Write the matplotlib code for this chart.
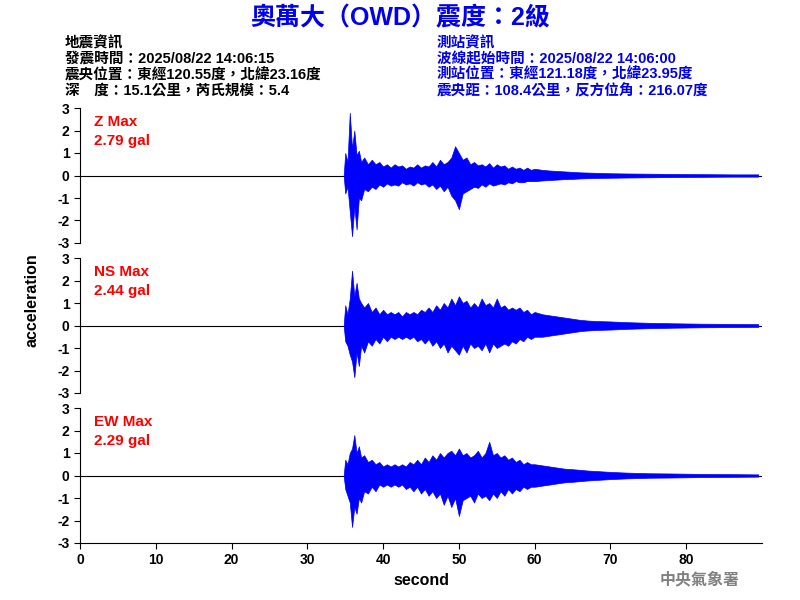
import matplotlib
matplotlib.use("Agg")
import matplotlib.pyplot as plt

plt.rcParams['font.family'] = ['Liberation Sans', 'Noto Sans CJK TC', 'DejaVu Sans']
plt.rcParams['axes.unicode_minus'] = False

title = "奧萬大（OWD）震度：2級"
left_info = ["地震資訊", "發震時間：2025/08/22 14:06:15", "震央位置：東經120.55度，北緯23.16度", "深　度：15.1公里，芮氏規模：5.4"]
right_info = ["測站資訊", "波線起始時間：2025/08/22 14:06:00", "測站位置：東經121.18度，北緯23.95度", "震央距：108.4公里，反方位角：216.07度"]
comp_labels = ["Z Max\n2.79 gal", "NS Max\n2.44 gal", "EW Max\n2.29 gal"]

# peak envelope: times (s) and upper/lower peaks per trace
t = [34.8, 35.0, 35.3, 35.6, 35.9, 36.2, 36.5, 36.8, 37.1, 37.5, 38.0, 38.5, 39.0, 39.5, 40.0, 40.5, 41.0,
     41.5, 42.0, 42.5, 43.0, 43.5, 44.0, 44.5, 45.0, 45.5, 46.0, 46.5, 47.0, 47.5, 48.0, 48.5, 49.0, 49.5,
     50.0, 50.5, 51.0, 51.5, 52.0, 52.5, 53.0, 53.5, 54.0, 54.5, 55.0, 55.5, 56.0, 56.5, 57.0, 57.5, 58.0,
     58.5, 59.0, 59.5, 60.0, 61.0, 62.0, 63.0, 64.0, 65.0, 66.0, 67.0, 68.0, 70.0, 72.0, 75.0, 78.0, 82.0, 86.0, 89.5]
z_up = [0.02, 1.0, 0.6, 2.79, 1.2, 2.0, 0.9, 1.1, 0.6, 0.8, 0.5, 0.7, 0.5, 0.6, 0.4, 0.5, 0.35,
        0.5, 0.4, 0.45, 0.3, 0.4, 0.35, 0.5, 0.35, 0.45, 0.4, 0.6, 0.4, 0.7, 0.5, 0.6, 0.8, 1.3,
        1.0, 0.7, 0.8, 0.5, 0.6, 0.45, 0.5, 0.4, 0.55, 0.35, 0.5, 0.4, 0.45, 0.3, 0.4, 0.3, 0.35,
        0.25, 0.35, 0.25, 0.3, 0.25, 0.22, 0.2, 0.18, 0.16, 0.14, 0.13, 0.12, 0.1, 0.09, 0.08, 0.07, 0.06, 0.05, 0.05]
z_lo = [-0.02, -0.8, -0.5, -1.6, -2.7, -1.4, -2.4, -1.0, -1.1, -0.6, -0.7, -0.5, -0.6, -0.4, -0.5, -0.35, -0.45,
        -0.4, -0.45, -0.3, -0.4, -0.35, -0.45, -0.3, -0.4, -0.35, -0.5, -0.4, -0.6, -0.45, -0.7, -0.5, -0.9, -1.1,
        -1.5, -0.8, -0.7, -0.6, -0.5, -0.55, -0.4, -0.5, -0.35, -0.45, -0.4, -0.35, -0.4, -0.3, -0.35, -0.25, -0.3,
        -0.3, -0.25, -0.25, -0.25, -0.22, -0.2, -0.18, -0.16, -0.15, -0.13, -0.12, -0.11, -0.1, -0.09, -0.08, -0.07, -0.06, -0.05, -0.05]
ns_up = [0.02, 0.9, 0.5, 1.2, 2.44, 1.3, 1.9, 1.2, 1.0, 0.8, 1.0, 0.6, 0.8, 0.5, 0.7, 0.5, 0.6,
         0.5, 0.6, 0.4, 0.6, 0.5, 0.6, 0.5, 0.7, 0.6, 0.8, 0.6, 0.9, 0.7, 1.0, 0.8, 1.2, 0.9,
         1.3, 1.0, 1.1, 0.8, 1.0, 0.8, 1.2, 0.9, 1.0, 0.8, 1.2, 0.8, 0.9, 0.7, 0.8, 0.7, 0.8,
         0.6, 0.7, 0.5, 0.6, 0.5, 0.45, 0.4, 0.35, 0.3, 0.25, 0.22, 0.2, 0.18, 0.15, 0.12, 0.1, 0.08, 0.07, 0.06]
ns_lo = [-0.02, -0.7, -0.9, -1.3, -1.6, -2.3, -1.2, -1.8, -0.9, -1.2, -0.7, -0.9, -0.6, -0.8, -0.5, -0.7, -0.5,
         -0.6, -0.5, -0.6, -0.5, -0.6, -0.5, -0.7, -0.6, -0.8, -0.6, -0.9, -0.7, -1.0, -0.8, -1.2, -0.9, -1.1,
         -1.3, -0.9, -1.2, -0.8, -1.0, -0.9, -1.1, -0.8, -1.2, -0.8, -1.0, -0.9, -0.8, -0.9, -0.7, -0.8, -0.6,
         -0.7, -0.5, -0.6, -0.5, -0.5, -0.45, -0.4, -0.35, -0.3, -0.25, -0.22, -0.2, -0.18, -0.15, -0.12, -0.1, -0.08, -0.07, -0.06]
ew_up = [0.02, 0.7, 0.5, 1.0, 1.2, 1.8, 1.0, 1.3, 0.8, 0.9, 0.6, 0.7, 0.5, 0.6, 0.4, 0.5, 0.4,
         0.5, 0.4, 0.5, 0.4, 0.6, 0.5, 0.7, 0.5, 0.8, 0.6, 0.9, 0.7, 1.0, 0.8, 1.0, 1.1, 0.9,
         1.2, 0.9, 1.0, 0.8, 0.9, 1.1, 0.8, 1.0, 1.5, 0.9, 1.0, 0.8, 0.9, 0.7, 0.8, 0.6, 0.7,
         0.5, 0.6, 0.5, 0.5, 0.45, 0.4, 0.35, 0.3, 0.28, 0.25, 0.22, 0.2, 0.16, 0.13, 0.1, 0.09, 0.07, 0.06, 0.05]
ew_lo = [-0.02, -0.6, -0.9, -1.2, -2.29, -1.4, -1.7, -1.0, -1.2, -0.7, -0.8, -0.5, -0.7, -0.4, -0.5, -0.4, -0.5,
         -0.4, -0.5, -0.4, -0.6, -0.5, -0.7, -0.5, -0.8, -0.6, -0.9, -0.7, -1.0, -0.8, -1.3, -0.9, -1.4, -1.0,
         -1.8, -1.1, -1.0, -0.9, -1.2, -0.8, -1.0, -0.9, -1.1, -0.8, -1.0, -0.7, -0.9, -0.6, -0.8, -0.6, -0.7,
         -0.5, -0.6, -0.5, -0.5, -0.45, -0.4, -0.35, -0.3, -0.28, -0.25, -0.22, -0.2, -0.16, -0.13, -0.1, -0.09, -0.07, -0.06, -0.05]

fig = plt.figure(figsize=(8, 6), dpi=100)
W, H = 800, 600
panels = [(108, 243), (258, 393), (408, 543)]
ups = [z_up, ns_up, ew_up]
los = [z_lo, ns_lo, ew_lo]
for i, (top, bot) in enumerate(panels):
    ax = fig.add_axes([80 / W, 1 - bot / H, (762 - 80) / W, (bot - top) / H])
    ax.axhline(0, color='black', lw=0.8, zorder=0)
    ax.fill_between(t, los[i], ups[i], color='#0000ff', lw=0.5, edgecolor='#0000ff', zorder=2)
    ax.set_xlim(0, 90)
    ax.set_ylim(-3, 3)
    ax.set_yticks(range(-3, 4))
    ax.tick_params(labelsize=10, length=4)
    for s in ['top', 'right']:
        ax.spines[s].set_visible(False)
    if i < 2:
        ax.spines['bottom'].set_visible(False)
        ax.set_xticks([])
    else:
        ax.set_xticks(range(0, 90, 10))
        ax.set_xlabel("second", fontsize=11.5, fontweight='bold')
    for lab in ax.get_xticklabels() + ax.get_yticklabels():
        lab.set_fontweight('bold')
    ax.text(0.02, 0.95, comp_labels[i], transform=ax.transAxes, color='red',
            fontsize=11, fontweight='bold', va='top', linespacing=1.5)

fig.text(0.5, 1 - 18 / H, title, color='#0000ee', fontsize=18, fontweight='bold', ha='center', va='center')
for k, s in enumerate(left_info):
    fig.text(65 / W, 1 - (43 + 16 * k) / H, s, fontsize=10.5, fontweight='bold', va='center')
for k, s in enumerate(right_info):
    fig.text(437 / W, 1 - (43 + 16 * k) / H, s, fontsize=10.5, fontweight='bold', va='center', color='#0000ee')
fig.text(32 / W, 1 - 300 / H, "acceleration", rotation=90, fontsize=11.5, fontweight='bold', ha='center', va='center')
fig.text(700 / W, 1 - 580 / H, "中央氣象署", color='gray', fontsize=11.5, fontweight='bold', ha='center', va='center')
fig.savefig("out.png", dpi=100)
